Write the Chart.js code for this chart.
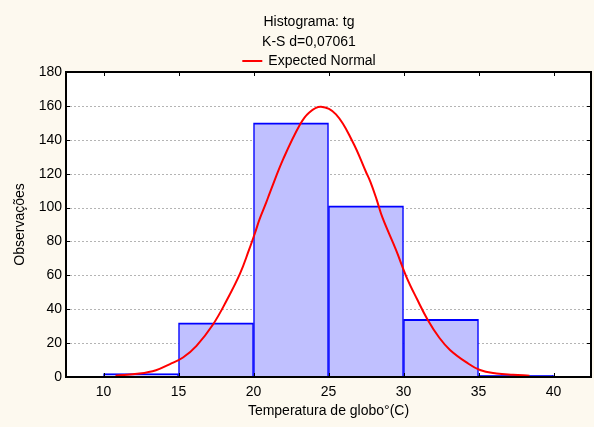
<!DOCTYPE html>
<html>
<head>
<meta charset="utf-8">
<script src="https://cdn.jsdelivr.net/npm/chart.js@4.4.1/dist/chart.umd.min.js"></script>
<style>
  html, body { margin: 0; padding: 0; background: #fdf9ef; }
  #wrap { width: 594px; height: 427px; position: relative; }
  canvas { display: block; }
</style>
</head>
<body>
<div id="wrap"><canvas id="c" width="594" height="427"></canvas></div>
<script>
// ---- data ----
const binEdges = [10, 15, 20, 25, 30, 35, 40];
const binCounts = [2, 32, 150, 101, 34, 1];

const normalX = [10.8, 12.4, 13.5, 14.4, 15.3, 16.2, 17.3, 18.2, 19.1, 19.7, 20.1, 20.4, 20.85, 21.1, 22.0, 23.1, 23.7, 24.5, 25.5, 26.6, 27.5, 27.8, 28.2, 28.6, 29.5, 30.2, 30.9, 31.6, 32.4, 33.1, 34.2, 35.1, 36.2, 37.3, 38.4];
const normalY = [0.7, 2, 4, 7.5, 11.5, 18.4, 31, 45, 61, 75, 85, 93, 103, 109, 129, 149, 156, 159.5, 155, 139, 121, 115, 105, 94, 75, 59, 46, 34, 23, 16, 8.6, 4.1, 2.1, 1.3, 0.8];

const xTickValues = [10, 15, 20, 25, 30, 35, 40];
const yTickValues = [0, 20, 40, 60, 80, 100, 120, 140, 160, 180];

const titleLines = ['Histograma: tg', 'K-S d=0,07061'];
const legendLabel = 'Expected Normal';
const xAxisTitle = 'Temperatura de globo°(C)';
const yAxisTitle = 'Observações';

// ---- build library datasets from the arrays ----
const barPoints = binCounts.map((v, i) => ({ x: (binEdges[i] + binEdges[i + 1]) / 2, y: v }));
const curvePoints = normalX.map((x, i) => ({ x: x, y: normalY[i] }));

const FONT = "'Liberation Sans', Arial, Helvetica, sans-serif";
const FS = 14;

const framePlugin = {
  id: 'frame',
  beforeDraw(chart) {
    const { ctx, chartArea: a } = chart;
    ctx.save();
    ctx.fillStyle = '#fdf9ef';
    ctx.fillRect(0, 0, chart.width, chart.height);
    ctx.fillStyle = '#ffffff';
    ctx.fillRect(a.left, a.top, a.right - a.left, a.bottom - a.top);
    // dotted horizontal grid lines
    const ys = chart.scales.y;
    ctx.strokeStyle = '#b4b4b4';
    ctx.lineWidth = 1;
    ctx.setLineDash([2, 2]);
    yTickValues.forEach(v => {
      if (v === ys.min || v === ys.max) return;
      const y = Math.round(ys.getPixelForValue(v)) + 0.5;
      ctx.beginPath();
      ctx.moveTo(a.left, y);
      ctx.lineTo(a.right, y);
      ctx.stroke();
    });
    ctx.restore();
  },
  afterDraw(chart) {
    const { ctx, chartArea: a } = chart;
    const xs = chart.scales.x, ys = chart.scales.y;
    ctx.save();
    // inward tick marks
    ctx.strokeStyle = '#000';
    ctx.lineWidth = 1;
    xTickValues.forEach(v => {
      const x = Math.round(xs.getPixelForValue(v)) + 0.5;
      ctx.beginPath();
      ctx.moveTo(x, a.top); ctx.lineTo(x, a.top + 4);
      ctx.moveTo(x, a.bottom); ctx.lineTo(x, a.bottom - 4);
      ctx.stroke();
    });
    yTickValues.forEach(v => {
      const y = Math.round(ys.getPixelForValue(v)) + 0.5;
      ctx.beginPath();
      ctx.moveTo(a.left, y); ctx.lineTo(a.left + 4, y);
      ctx.moveTo(a.right, y); ctx.lineTo(a.right - 4, y);
      ctx.stroke();
    });
    // frame
    ctx.lineWidth = 2;
    ctx.strokeRect(a.left, a.top, a.right - a.left, a.bottom - a.top);
    // header texts
    ctx.fillStyle = '#000';
    ctx.font = FS + 'px ' + FONT;
    ctx.textAlign = 'center';
    ctx.textBaseline = 'middle';
    const cx = 309;
    ctx.fillText(titleLines[0], cx, 22);
    ctx.fillText(titleLines[1], cx, 42);
    // legend
    ctx.textAlign = 'left';
    const tw = ctx.measureText(legendLabel).width;
    const lineLen = 20, gap = 6;
    const start = cx - (lineLen + gap + tw) / 2;
    ctx.strokeStyle = '#ff0000';
    ctx.lineWidth = 2;
    ctx.beginPath();
    ctx.moveTo(start, 61); ctx.lineTo(start + lineLen, 61);
    ctx.stroke();
    ctx.fillText(legendLabel, start + lineLen + gap, 61);
    ctx.restore();
  }
};

new Chart(document.getElementById('c'), {
  type: 'bar',
  data: {
    datasets: [
      {
        type: 'line',
        label: legendLabel,
        data: curvePoints,
        borderColor: '#ff0000',
        borderWidth: 2,
        pointRadius: 0,
        fill: false,
        tension: 0.4,
        order: 0
      },
      {
        type: 'bar',
        label: 'tg',
        data: barPoints,
        backgroundColor: '#c0c0ff',
        borderColor: '#0000ff',
        borderWidth: { top: 2, left: 1.5, right: 1.5, bottom: 0 },
        borderSkipped: false,
        barPercentage: 1,
        categoryPercentage: 1,
        order: 1
      }
    ]
  },
  options: {
    responsive: false,
    animation: false,
    events: [],
    layout: { padding: { top: 72, right: 3, left: 0, bottom: 0 } },
    plugins: {
      legend: { display: false },
      title: { display: false },
      tooltip: { enabled: false }
    },
    scales: {
      x: {
        type: 'linear',
        min: 7.5,
        max: 42.5,
        offset: false,
        afterBuildTicks: s => { s.ticks = xTickValues.map(v => ({ value: v })); },
        afterFit: s => { s.height = 50; },
        grid: { display: false, drawTicks: false },
        border: { display: false },
        ticks: { color: '#000', font: { family: FONT, size: FS }, padding: 7, maxRotation: 0 },
        title: { display: true, text: xAxisTitle, color: '#000', font: { family: FONT, size: FS }, padding: { top: 0, bottom: 7 } }
      },
      y: {
        min: 0,
        max: 180,
        afterBuildTicks: s => { s.ticks = yTickValues.map(v => ({ value: v })); },
        afterFit: s => { s.width = 66; },
        grid: { display: false, drawTicks: false },
        border: { display: false },
        ticks: { color: '#000', font: { family: FONT, size: FS }, padding: 4 },
        title: { display: true, text: yAxisTitle, color: '#000', font: { family: FONT, size: FS }, padding: { top: 12, bottom: 0 } }
      }
    }
  },
  plugins: [framePlugin]
});
</script>
</body>
</html>
